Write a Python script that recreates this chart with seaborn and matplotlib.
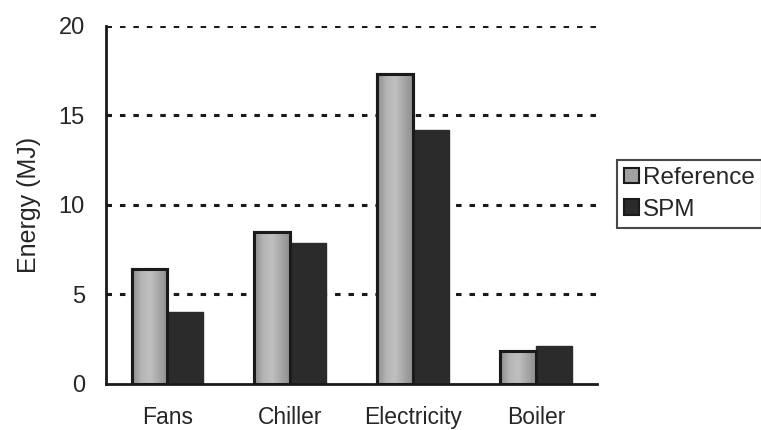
import matplotlib
matplotlib.use("Agg")
import matplotlib.pyplot as plt
from matplotlib.ticker import FixedLocator, NullFormatter
from matplotlib.colors import LinearSegmentedColormap
import numpy as np
import seaborn as sns
import pandas as pd

categories = ["Fans", "Chiller", "Electricity", "Boiler"]
reference = [6.4, 8.5, 17.3, 1.85]
spm = [4.0, 7.9, 14.2, 2.1]
series = ["Reference", "SPM"]
yticks = [0, 5, 10, 15, 20]

df = pd.DataFrame({
    "category": categories * 2,
    "series": [series[0]] * len(categories) + [series[1]] * len(categories),
    "energy": reference + spm,
})

sns.set_style("white")
plt.rcParams["font.family"] = ["Liberation Sans", "DejaVu Sans"]

fig = plt.figure(figsize=(7.61, 4.30), dpi=100)
ax = fig.add_axes([0.139, 0.107, 0.646, 0.833])

palette = {"Reference": "#a2a2a2", "SPM": "#2b2b2b"}
sns.barplot(data=df, x="category", y="energy", hue="series", order=categories,
            hue_order=series, palette=palette, width=0.58, saturation=1,
            ax=ax, zorder=3)

# shaded grey fill inside the Reference bars
shade = LinearSegmentedColormap.from_list(
    "shade", ["#8c8c8c", "#b4b4b4", "#c0c0c0", "#a8a8a8", "#8e8e8e"])
grad = np.linspace(0, 1, 64).reshape(1, -1)
for bar in ax.containers[0]:
    bar.set_edgecolor("#1a1a1a")
    bar.set_linewidth(2.2)
    x0, y0 = bar.get_x(), bar.get_y()
    w, h = bar.get_width(), bar.get_height()
    im = ax.imshow(grad, cmap=shade, aspect="auto", extent=(x0, x0 + w, y0, y0 + h),
                   zorder=3.1, interpolation="bicubic")
    im.set_clip_path(bar)
    edge = plt.Rectangle((x0, y0), w, h, fill=False, edgecolor="#1a1a1a",
                         linewidth=2.2, zorder=3.2)
    ax.add_patch(edge)
for bar in ax.containers[1]:
    bar.set_edgecolor("#2b2b2b")
    bar.set_linewidth(1)

ax.set_ylim(0, 20)
ax.set_xlim(-0.5, 3.5)
ax.set_yticks(yticks)
ax.set_yticklabels([str(v) for v in yticks], fontsize=17)
ax.set_xlabel("")
ax.set_ylabel("Energy (MJ)", fontsize=18, labelpad=13)
ax.tick_params(axis="x", which="major", length=0, labelsize=16.5, pad=16)
ax.xaxis.set_minor_locator(FixedLocator([-0.5, 0.5, 1.5, 2.5, 3.5]))
ax.xaxis.set_minor_formatter(NullFormatter())
ax.tick_params(axis="x", which="minor", direction="inout", length=13, width=2, color="#1a1a1a")
ax.tick_params(axis="y", which="major", direction="inout", length=12, width=2,
               color="#1a1a1a", pad=9)

# dotted horizontal gridlines
for v in yticks[1:]:
    ax.axhline(v, color="#1a1a1a", linewidth=2.2, linestyle=(0, (1.8, 2.6)), zorder=2)

for side in ["top", "right"]:
    ax.spines[side].set_visible(False)
for side in ["left", "bottom"]:
    ax.spines[side].set_linewidth(2)
    ax.spines[side].set_color("#1a1a1a")
    ax.spines[side].set_zorder(4)

leg = ax.legend(loc="upper left", bbox_to_anchor=(1.04, 0.626), frameon=True,
                fancybox=False, edgecolor="#1a1a1a", fontsize=17.5,
                handlelength=0.6, handleheight=0.6, handletextpad=0.15,
                borderpad=0.3, labelspacing=0.4, borderaxespad=0)
leg.get_frame().set_linewidth(1.5)
for h in leg.legend_handles:
    h.set_edgecolor("#1a1a1a")
    h.set_linewidth(1.5)

fig.savefig("out.png", dpi=100)
